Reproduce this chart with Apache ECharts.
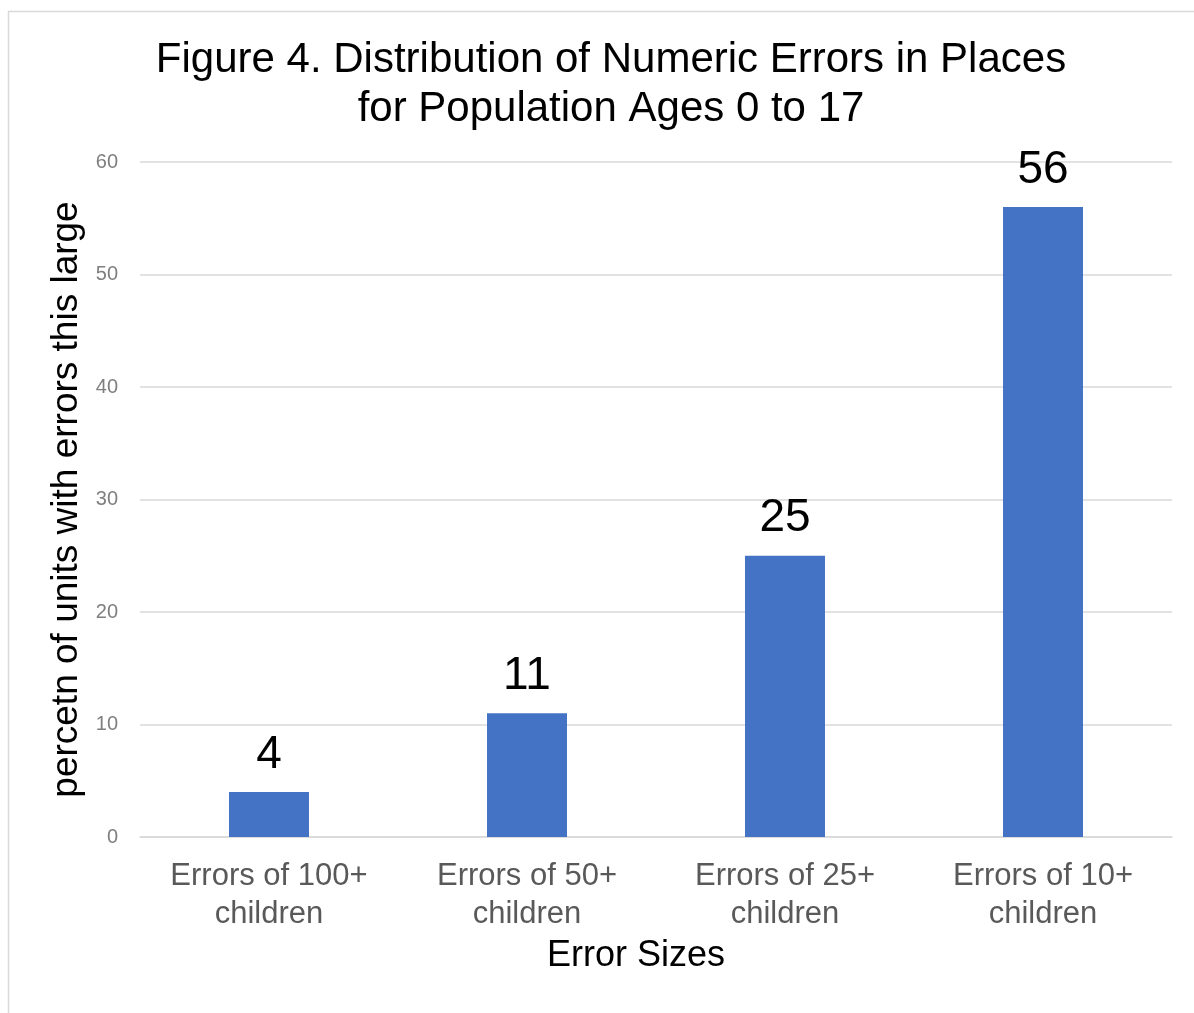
<!DOCTYPE html>
<html>
<head>
<meta charset="utf-8">
<script src="https://cdn.jsdelivr.net/npm/echarts@6/dist/echarts.min.js"></script>
<style>
  html, body { margin: 0; padding: 0; background: #fff; }
  #chart { width: 1194px; height: 1013px; }
</style>
</head>
<body>
<div id="chart"></div>
<script>
// Share of units whose numeric error reaches each size
const categories = [
  'Errors of 100+\nchildren',
  'Errors of 50+\nchildren',
  'Errors of 25+\nchildren',
  'Errors of 10+\nchildren'
];
const values = [4, 11, 25, 56];
const yTicks = { min: 0, max: 60, interval: 10 };

const FONT = '"Liberation Sans", Arial, sans-serif';
const chart = echarts.init(document.getElementById('chart'));

chart.setOption({
  animation: false,
  backgroundColor: '#ffffff',
  graphic: [{
    type: 'rect',
    shape: { x: 8.5, y: 11.5, width: 1200, height: 1010 },
    style: { fill: 'none', stroke: '#d9d9d9', lineWidth: 1.5 },
    z: -1
  }],
  title: {
    text: 'Figure 4. Distribution of Numeric Errors in Places\nfor Population Ages 0 to 17',
    left: 606,
    top: 31,
    textAlign: 'center',
    textStyle: {
      fontFamily: FONT,
      fontSize: 42,
      fontWeight: 'normal',
      color: '#000000',
      lineHeight: 49
    }
  },
  grid: { left: 140, right: 22, top: 162, bottom: 176 },
  xAxis: {
    type: 'category',
    data: categories,
    name: 'Error Sizes',
    nameLocation: 'middle',
    nameGap: 98,
    nameTextStyle: {
      fontFamily: FONT,
      fontSize: 36,
      color: '#000000',
      padding: [0, 40, 0, 0]
    },
    axisLine: { show: true, lineStyle: { color: '#d9d9d9', width: 1.5 } },
    axisTick: { show: false },
    axisLabel: {
      fontFamily: FONT,
      fontSize: 31,
      color: '#595959',
      lineHeight: 38,
      margin: 20,
      interval: 0
    }
  },
  yAxis: {
    type: 'value',
    min: yTicks.min,
    max: yTicks.max,
    interval: yTicks.interval,
    name: 'percetn of units with errors this large',
    nameLocation: 'middle',
    nameGap: 55,
    nameTextStyle: { fontFamily: FONT, fontSize: 37, color: '#000000' },
    axisLine: { show: false },
    axisTick: { show: false },
    axisLabel: { fontFamily: FONT, fontSize: 20, color: '#7f7f7f', margin: 22 },
    splitLine: { lineStyle: { color: '#d9d9d9', width: 1.5 } }
  },
  series: [{
    type: 'bar',
    data: values,
    barWidth: '31%',
    itemStyle: { color: '#4472c4' },
    label: {
      show: true,
      position: 'top',
      distance: 14,
      fontFamily: FONT,
      fontSize: 46,
      color: '#000000'
    }
  }]
});
</script>
</body>
</html>
